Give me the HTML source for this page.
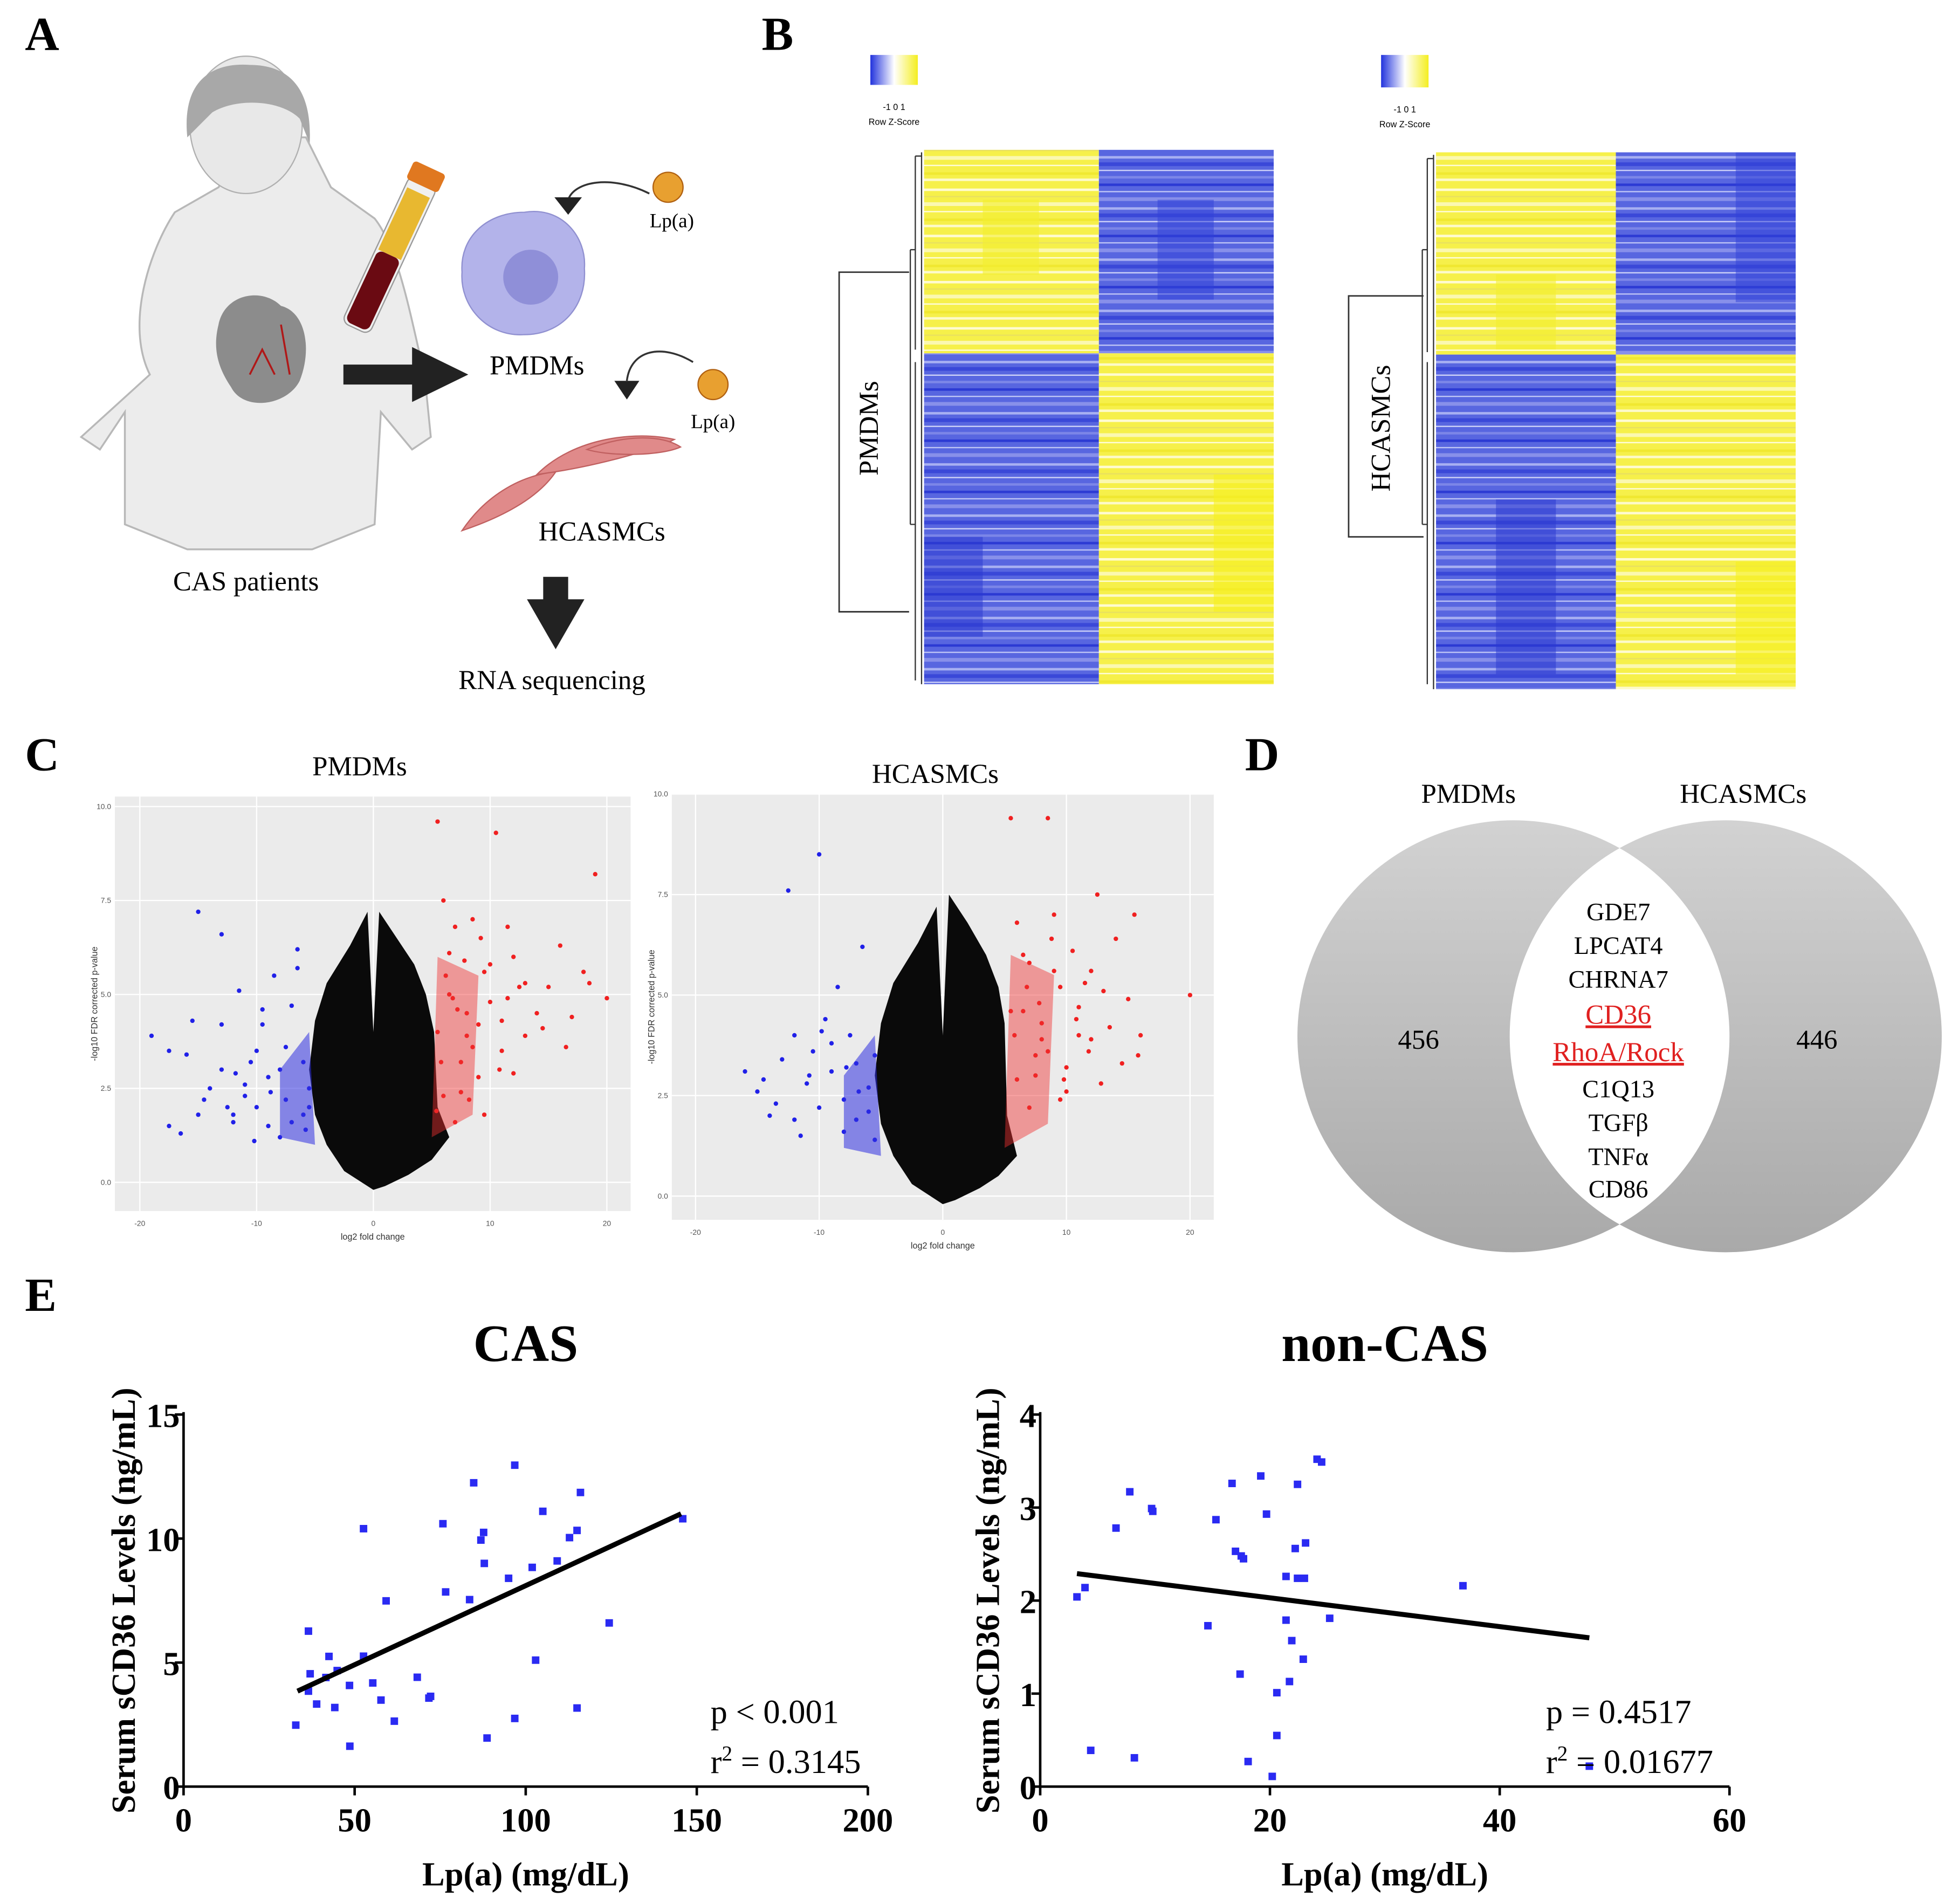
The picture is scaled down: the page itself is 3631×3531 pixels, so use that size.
<!DOCTYPE html>
<html><head><meta charset="utf-8"><style>
html,body{margin:0;padding:0;background:#fff}
svg{display:block}
text{font-family:"Liberation Serif",serif}
.sans{font-family:"Liberation Sans",sans-serif}
</style></head><body>
<svg id="fig" width="3631" height="3531" viewBox="0 0 1568 1525" preserveAspectRatio="none" xmlns="http://www.w3.org/2000/svg">
<defs>
<linearGradient id="vg" x1="0" y1="0" x2="0" y2="1"><stop offset="0" stop-color="#d2d2d2"/><stop offset="1" stop-color="#a9a9a9"/></linearGradient>
<pattern id="stripeY" width="40" height="37" patternUnits="userSpaceOnUse">
<rect width="40" height="37" fill="#f6f04a"/>
<rect y="3" width="40" height="2" fill="#fffbd0"/><rect y="9" width="40" height="1" fill="#e8e060"/>
<rect y="14" width="40" height="3" fill="#fbf8b0"/><rect y="21" width="40" height="1" fill="#fffde0"/>
<rect y="27" width="40" height="2" fill="#f0e830"/><rect y="32" width="40" height="2" fill="#fdfac8"/>
</pattern>
<pattern id="stripeB" width="40" height="41" patternUnits="userSpaceOnUse">
<rect width="40" height="41" fill="#5866e0"/>
<rect y="2" width="40" height="2" fill="#a8b0f2"/><rect y="7" width="40" height="3" fill="#3a48d8"/>
<rect y="13" width="40" height="1" fill="#d0d4f8"/><rect y="18" width="40" height="2" fill="#7c86e8"/>
<rect y="24" width="40" height="2" fill="#2c3ad4"/><rect y="30" width="40" height="1" fill="#c0c6f6"/>
<rect y="35" width="40" height="3" fill="#8890ea"/>
</pattern>
<linearGradient id="keyg" x1="0" x2="1"><stop offset="0" stop-color="#2233dd"/><stop offset="0.5" stop-color="#ffffff"/><stop offset="1" stop-color="#f4ee20"/></linearGradient>
</defs>

<!-- Panel letters -->
<text x="20" y="40" font-size="38" font-weight="bold">A</text>
<text x="610" y="40" font-size="38" font-weight="bold">B</text>
<text x="20" y="617" font-size="38" font-weight="bold">C</text>
<text x="997" y="617" font-size="38" font-weight="bold">D</text>
<text x="20" y="1050" font-size="38" font-weight="bold">E</text>

<!-- Panel A illustration -->
<g>
<path d="M120,300 C100,260 120,200 140,170 L175,150 L200,110 L245,110 L265,150 L300,175 C320,200 330,260 340,300 L345,350 L330,360 L305,330 L300,420 L250,440 L150,440 L100,420 L100,330 L80,360 L65,350 Z" fill="#ececec" stroke="#b8b8b8" stroke-width="1.5"/>
<ellipse cx="197" cy="100" rx="45" ry="55" fill="#e8e8e8" stroke="#b0b0b0"/>
<path d="M150,110 C145,60 175,50 200,52 C235,52 250,75 248,115 L240,95 C225,80 190,78 170,90 Z" fill="#a8a8a8"/>
<path d="M175,260 C180,235 210,230 225,245 C245,250 250,280 240,305 C230,325 195,330 185,310 C175,295 170,280 175,260Z" fill="#8c8c8c"/>
<path d="M200,300 L210,280 L220,300 M225,260 L232,300" stroke="#b01818" stroke-width="1.5" fill="none"/>
<g transform="rotate(25 315 200)"><rect x="302" y="140" width="24" height="130" rx="6" fill="#f0f0f0" stroke="#999"/><rect x="304" y="150" width="20" height="55" fill="#e8b830"/><rect x="304" y="205" width="20" height="63" rx="5" fill="#6a0a12"/><rect x="300" y="128" width="28" height="16" rx="3" fill="#e07820"/></g>
</g>
<path d="M520,155 C490,140 460,145 455,160" stroke="#333" stroke-width="1.5" fill="none"/>
<polygon points="444,158 466,158 455,172" fill="#222"/>
<circle cx="535" cy="150" r="12" fill="#e8a030" stroke="#b06010"/>
<text x="538" y="182" font-size="16" text-anchor="middle">Lp(a)</text>
<path d="M420,170 C450,165 470,190 468,215 C470,245 450,268 420,268 C390,270 368,245 370,218 C368,190 390,170 420,170Z" fill="#b3b3ea" stroke="#9090d0"/>
<circle cx="425" cy="222" r="22" fill="#8f8fd8"/>
<path d="M275,292 L330,292 L330,278 L375,300 L330,322 L330,308 L275,308Z" fill="#222"/>
<text x="430" y="300" font-size="22" text-anchor="middle">PMDMs</text>
<path d="M555,290 C530,275 505,280 502,305" stroke="#333" stroke-width="1.5" fill="none"/>
<polygon points="492,305 512,305 502,320" fill="#222"/>
<circle cx="571" cy="308" r="12" fill="#e8a030" stroke="#b06010"/>
<text x="571" y="343" font-size="16" text-anchor="middle">Lp(a)</text>
<g fill="#e08a8a" stroke="#c06060">
<path d="M430,380 C460,350 510,345 540,352 C520,362 470,375 430,380Z"/>
<path d="M470,360 C500,348 530,348 545,358 C530,365 490,366 470,360Z"/>
<path d="M370,425 C390,395 420,380 445,378 C430,400 400,415 370,425Z"/>
</g>
<text x="482" y="433" font-size="22" text-anchor="middle">HCASMCs</text>
<text x="197" y="473" font-size="22" text-anchor="middle">CAS patients</text>
<path d="M435,462 L455,462 L455,480 L468,480 L445,520 L422,480 L435,480Z" fill="#222"/>
<text x="442" y="552" font-size="22" text-anchor="middle">RNA sequencing</text>

<!-- Panel B heatmaps -->
<g>
<rect x="697" y="44" width="38" height="24" fill="url(#keyg)"/>
<text x="716" y="88" font-size="7" text-anchor="middle" class="sans">-1  0  1</text>
<text x="716" y="100" font-size="7" text-anchor="middle" class="sans">Row Z-Score</text>
<rect x="740" y="120" width="140" height="163" fill="url(#stripeY)"/>
<rect x="880" y="120" width="140" height="163" fill="url(#stripeB)"/>
<rect x="740" y="283" width="140" height="265" fill="url(#stripeB)"/>
<rect x="880" y="283" width="140" height="265" fill="url(#stripeY)"/>
<rect x="787" y="160" width="45" height="60" fill="#f4ee30" opacity="0.6"/>
<rect x="927" y="160" width="45" height="80" fill="#3040d8" opacity="0.5"/>
<rect x="740" y="430" width="47" height="80" fill="#2a38d0" opacity="0.5"/>
<rect x="972" y="380" width="48" height="110" fill="#f6f020" opacity="0.6"/>
<path d="M738,122 V548 M733,125 H738 M733,125 V280 M729,200 H733 M733,290 V545 M729,420 H733 M729,200 V420" stroke="#333" stroke-width="1" fill="none"/>
<path d="M728,218 H672 V490 H728" stroke="#333" stroke-width="1.2" fill="none"/>
<text transform="translate(703 343) rotate(-90)" font-size="22" text-anchor="middle">PMDMs</text>
</g>
<g>
<rect x="1106" y="44" width="38" height="26" fill="url(#keyg)"/>
<text x="1125" y="90" font-size="7" text-anchor="middle" class="sans">-1  0  1</text>
<text x="1125" y="102" font-size="7" text-anchor="middle" class="sans">Row Z-Score</text>
<rect x="1150" y="122" width="144" height="162" fill="url(#stripeY)"/>
<rect x="1294" y="122" width="144" height="162" fill="url(#stripeB)"/>
<rect x="1150" y="284" width="144" height="268" fill="url(#stripeB)"/>
<rect x="1294" y="284" width="144" height="268" fill="url(#stripeY)"/>
<rect x="1198" y="220" width="48" height="60" fill="#f4ee30" opacity="0.6"/>
<rect x="1390" y="122" width="48" height="120" fill="#3040d8" opacity="0.5"/>
<rect x="1198" y="400" width="48" height="140" fill="#2a38d0" opacity="0.5"/>
<rect x="1390" y="450" width="48" height="90" fill="#f6f020" opacity="0.6"/>
<path d="M1148,124 V552 M1143,127 H1148 M1143,127 V282 M1139,200 H1143 M1143,290 V548 M1139,420 H1143 M1139,200 V420" stroke="#333" stroke-width="1" fill="none"/>
<path d="M1140,237 H1080 V430 H1140" stroke="#333" stroke-width="1.2" fill="none"/>
<text transform="translate(1113 343) rotate(-90)" font-size="22" text-anchor="middle">HCASMCs</text>
</g>

<!-- Panel C volcano -->
<text x="288" y="621" font-size="22" text-anchor="middle">PMDMs</text>
<text x="749" y="627" font-size="22" text-anchor="middle">HCASMCs</text>
<g id="volL"></g>
<g id="volR"></g>

<!-- Panel D venn -->
<g>
<circle cx="1212" cy="830" r="173" fill="url(#vg)"/>
<circle cx="1382" cy="830" r="173" fill="url(#vg)"/>
<clipPath id="clipL"><circle cx="1212" cy="830" r="173"/></clipPath>
<circle cx="1382" cy="830" r="173" fill="#fff" clip-path="url(#clipL)"/>
<text x="1176" y="643" font-size="22" text-anchor="middle">PMDMs</text>
<text x="1396" y="643" font-size="22" text-anchor="middle">HCASMCs</text>
<text x="1136" y="840" font-size="22" text-anchor="middle">456</text>
<text x="1455" y="840" font-size="22" text-anchor="middle">446</text>
<g font-size="20" text-anchor="middle">
<text x="1296" y="737">GDE7</text>
<text x="1296" y="764">LPCAT4</text>
<text x="1296" y="791">CHRNA7</text>
<text x="1296" y="820" fill="#e02020" font-size="22" text-decoration="underline">CD36</text>
<text x="1296" y="850" fill="#e02020" font-size="22" text-decoration="underline">RhoA/Rock</text>
<text x="1296" y="879">C1Q13</text>
<text x="1296" y="906">TGFβ</text>
<text x="1296" y="933">TNFα</text>
<text x="1296" y="959">CD86</text>
</g>
</g>

<!-- Panel E -->
<g id="scatCAS"></g>
<g id="scatNon"></g>
</svg>
<script>
// ---------- Scatter data ----------
const casX=[96.8,84.8,116,105,75.8,52.6,145.9,87.7,86.9,115,112.8,87.9,109.2,101.9,95,59.2,76.6,83.6,124.4,36.5,42.5,52.6,102.9,37,44.9,41.6,68.3,48.5,55.3,36.5,57.7,72.2,71.7,38.9,44.2,115,61.6,96.8,32.8,88.7,48.6];
const casY=[12.96,12.25,11.86,11.1,10.6,10.4,10.8,10.25,9.94,10.33,10.04,9.0,9.1,8.84,8.4,7.49,7.85,7.54,6.6,6.27,5.25,5.26,5.1,4.55,4.68,4.4,4.41,4.08,4.18,3.85,3.49,3.64,3.57,3.33,3.19,3.17,2.64,2.75,2.48,1.96,1.63];
const casFitX=[33.3,145.4];
const casFitY=[3.85,11.0];
const casXTicks=[0,50,100,150,200];
const casYTicks=[0,5,10,15];
const nonX=[24.1,24.5,19.2,16.7,22.4,7.8,9.7,9.8,15.3,19.7,6.6,23.1,22.2,17.0,17.5,17.7,21.4,22.4,23.0,36.8,3.9,3.2,14.6,21.4,25.2,21.9,22.9,17.4,21.7,20.6,20.6,4.4,8.2,18.1,20.2,47.8];
const nonY=[3.52,3.49,3.34,3.26,3.25,3.17,2.99,2.96,2.87,2.93,2.78,2.62,2.56,2.53,2.48,2.45,2.26,2.24,2.24,2.16,2.14,2.04,1.73,1.79,1.81,1.57,1.37,1.21,1.13,1.01,0.55,0.39,0.31,0.27,0.11,0.22];
const nonFitX=[3.2,47.8];
const nonFitY=[2.29,1.60];
const nonXTicks=[0,20,40,60];
const nonYTicks=[0,1,2,3,4];

// ---------- Volcano data (log2FC, -log10 FDR) ----------
const volLBlueX=[-19,-17.5,-17.5,-16,-15.5,-15,-14,-13,-13,-12.5,-12,-11.5,-11,-10.5,-10,-9.5,-9,-8.5,-8,-7.5,-7,-6.5,-6,-5.5,-13,-15,-11,-9,-8,-7,-6,-5.5,-10,-12,-16.5,-14.5,-6.5,-9.5,-7.5,-5.8,-8.8,-10.2,-11.8];
const volLBlueY=[3.9,3.5,1.5,3.4,4.3,7.2,2.5,4.2,6.6,2.0,1.8,5.1,2.3,3.2,3.5,4.2,1.5,5.5,3.0,2.2,4.7,6.2,1.8,2.5,3.0,1.8,2.6,2.8,1.2,1.6,3.2,2.0,2.0,1.6,1.3,2.2,5.7,4.6,3.6,1.4,2.4,1.1,2.9];
const volLRedX=[5.5,6,6.5,7,7.5,8,8.5,9,9.5,10,10.5,11,11.5,12,13,14,15,16,17,18,19,20,6,7,8,9,10,5.5,6.5,7.5,8.5,9.5,11,12,13,5.8,6.2,7.2,8.2,9.2,10.8,12.5,14.5,16.5,18.5,5.4,6.8,7.8,11.5];
const volLRedY=[9.6,7.5,5.0,6.8,3.2,4.5,7.0,2.8,5.6,4.8,9.3,3.5,4.9,6.0,5.3,4.5,5.2,6.3,4.4,5.6,8.2,4.9,2.3,1.6,3.9,4.2,5.8,4.0,6.1,2.4,3.6,1.8,4.3,2.9,3.9,3.2,5.5,4.6,2.2,6.5,3.0,5.2,4.1,3.6,5.3,1.9,4.9,5.9,6.8];
const volRBlueX=[-16,-15,-14,-13,-12.5,-12,-11,-10.5,-10,-9.5,-9,-8.5,-8,-7.5,-7,-6.5,-6,-5.5,-13.5,-11.5,-10,-8,-7,-6,-5.5,-9,-12,-14.5,-6.8,-7.8,-9.8,-10.8];
const volRBlueY=[3.1,2.6,2.0,3.4,7.6,4.0,2.8,3.6,8.5,4.4,3.1,5.2,2.4,4.0,3.3,6.2,2.1,3.5,2.3,1.5,2.2,1.6,1.9,2.7,1.4,3.8,1.9,2.9,2.6,3.2,4.1,3.0];
const volRRedX=[5.5,6,6.5,7,7.5,8,8.5,9,9.5,10,10.5,11,11.5,12,12.5,13,14,15,16,20,6,7,8,9,10,11,12,5.5,6.5,7.5,8.5,9.5,13.5,14.5,15.5,5.8,6.8,7.8,8.8,9.8,10.8,11.8,12.8,15.8];
const volRRedY=[9.4,6.8,4.6,5.8,3.5,4.3,9.4,7.0,5.2,3.2,6.1,4.7,5.3,3.9,7.5,5.1,6.4,4.9,4.0,5.0,2.9,2.2,3.9,5.6,2.6,4.0,5.6,4.6,6.0,3.0,3.6,2.4,4.2,3.3,7.0,4.0,5.2,4.8,6.4,2.9,4.4,3.6,2.8,3.5];
const volLMassX=[0,-2.5,-4,-5,-5.5,-5,-4,-2,-0.5,0,0.5,2,3.5,4.5,5.2,5.5,6.5,5,3,1];
const volLMassY=[-0.2,0.3,1.0,1.8,3.0,4.3,5.3,6.3,7.2,4,7.2,6.5,5.8,5.0,4.0,2.0,1.2,0.6,0.2,-0.1];
const volRMassX=[0,-2.5,-4,-5,-5.5,-5,-4,-2,-0.5,0,0.5,2,3.5,4.5,5,5.2,6,4.5,3,1];
const volRMassY=[-0.2,0.3,1.0,1.8,3.0,4.3,5.3,6.3,7.2,4,7.5,6.8,6.0,5.2,4.3,2.0,1.0,0.5,0.2,-0.1];
const volXTicks=[-20,-10,0,10,20];
const volYTicks=[0,2.5,5,7.5,10];

const NS="http://www.w3.org/2000/svg";
function mk(tag,attrs,parent){const e=document.createElementNS(NS,tag);for(const k in attrs)e.setAttribute(k,attrs[k]);parent.appendChild(e);return e;}

function scatter(g,cfg){
  const sx=v=>cfg.x0+(v-cfg.xmin)/(cfg.xmax-cfg.xmin)*(cfg.x1-cfg.x0);
  const sy=v=>cfg.y0-(v-cfg.ymin)/(cfg.ymax-cfg.ymin)*(cfg.y0-cfg.y1);
  const t=mk('text',{x:(cfg.x0+cfg.x1)/2+cfg.titleDx,y:1090,'font-size':42,'font-weight':'bold','text-anchor':'middle'},g);
  t.textContent=cfg.title;
  
  
  const ax=mk('path',{d:`M${cfg.x0},${cfg.y1-2} V${cfg.y0} H${cfg.x1}`,stroke:'#000','stroke-width':2,fill:'none'},g);
  
  
  cfg.xt.forEach(v=>{
    mk('line',{x1:sx(v),x2:sx(v),y1:cfg.y0,y2:cfg.y0+7,stroke:'#000','stroke-width':2},g);
    const l=mk('text',{x:sx(v),y:cfg.y0+36,'font-size':27,'font-weight':'bold','text-anchor':'middle'},g);
    l.textContent=v;
    
    
  });
  cfg.yt.forEach(v=>{
    mk('line',{x1:cfg.x0-7,x2:cfg.x0,y1:sy(v),y2:sy(v),stroke:'#000','stroke-width':2},g);
    const l=mk('text',{x:cfg.x0-3,y:sy(v)+10,'font-size':27,'font-weight':'bold','text-anchor':'end'},g);
    l.textContent=v;
    
    
  });
  const xl=mk('text',{x:(cfg.x0+cfg.x1)/2,y:1510,'font-size':27,'font-weight':'bold','text-anchor':'middle'},g);
  xl.textContent='Lp(a) (mg/dL)';
  
  
  const yl=mk('text',{transform:`translate(${cfg.ytx} 1282) rotate(-90)`,'font-size':27,'font-weight':'bold','text-anchor':'middle'},g);
  yl.textContent='Serum sCD36 Levels (ng/mL)';
  
  
  cfg.xs.forEach((v,i)=>{
    const p=mk('rect',{x:sx(v)-3,y:sy(cfg.ys[i])-3,width:6,height:6,fill:'#2a2af2'},g);
    
    
  });
  const f=mk('line',{x1:sx(cfg.fx[0]),y1:sy(cfg.fy[0]),x2:sx(cfg.fx[1]),y2:sy(cfg.fy[1]),stroke:'#000','stroke-width':4},g);
  
  
  const s1=mk('text',{x:cfg.statX,y:1380,'font-size':27},g);
  s1.textContent=cfg.p;
  
  
  const s2=mk('text',{x:cfg.statX,y:1420,'font-size':27},g);
  s2.innerHTML='r<tspan dy="-10" font-size="17">2</tspan><tspan dy="10"> = '+cfg.r2+'</tspan>';
  
  
}
scatter(document.getElementById('scatCAS'),{x0:147,x1:695,y0:1431,y1:1133,xmin:0,xmax:200,ymin:0,ymax:15,xt:casXTicks,yt:casYTicks,xs:casX,ys:casY,fx:casFitX,fy:casFitY,title:'CAS',titleDx:-0,ytx:108,statX:569,p:'p < 0.001',r2:'0.3145'});
scatter(document.getElementById('scatNon'),{x0:833,x1:1385,y0:1431,y1:1133,xmin:0,xmax:60,ymin:0,ymax:4,xt:nonXTicks,yt:nonYTicks,xs:nonX,ys:nonY,fx:nonFitX,fy:nonFitY,title:'non-CAS',titleDx:0,ytx:800,statX:1238,p:'p = 0.4517',r2:'0.01677'});

function volcano(g,c){
  const sx=v=>c.xa+(v+20)/40*(c.xb-c.xa);
  const sy=v=>c.ya-v/10*(c.ya-c.yb);
  const bg=mk('rect',{x:c.L,y:c.T,width:c.R-c.L,height:c.B-c.T,fill:'#ebebeb'},g);
  
  
  volYTicks.forEach(v=>{
    mk('line',{x1:c.L,x2:c.R,y1:sy(v),y2:sy(v),stroke:'#fff','stroke-width':1},g);
    const l=mk('text',{x:c.L-3,y:sy(v)+2,'font-size':6,'text-anchor':'end',class:'sans',fill:'#555'},g);
    l.textContent=v.toFixed(1);
    
    
  });
  volXTicks.forEach(v=>{
    mk('line',{x1:sx(v),x2:sx(v),y1:c.T,y2:c.B,stroke:'#fff','stroke-width':1},g);
    const l=mk('text',{x:sx(v),y:c.B+12,'font-size':6,'text-anchor':'middle',class:'sans',fill:'#555'},g);
    l.textContent=v;
    
    
  });
  const xt=mk('text',{x:(c.L+c.R)/2,y:c.B+23,'font-size':7,'text-anchor':'middle',class:'sans',fill:'#333'},g);
  xt.textContent='log2 fold change';
  
  
  const yt=mk('text',{transform:`translate(${c.L-14} ${(c.T+c.B)/2}) rotate(-90)`,'font-size':7,'text-anchor':'middle',class:'sans',fill:'#333'},g);
  yt.textContent='-log10 FDR corrected p-value';
  
  
  let d='';c.mx.forEach((v,i)=>{d+=(i?'L':'M')+sx(v)+','+sy(c.my[i]);});
  const m=mk('path',{d:d+'Z',fill:'#0a0a0a'},g);
  
  
  c.bx.forEach((v,i)=>{
    const p=mk('circle',{cx:sx(v),cy:sy(c.by[i]),r:1.8,fill:'#2020e8'},g);
    
    
  });
  c.rx.forEach((v,i)=>{
    const p=mk('circle',{cx:sx(v),cy:sy(c.ry[i]),r:1.8,fill:'#f02020'},g);
    
    
  });
  // dense clouds near thresholds
  const cl=mk('path',{d:`M${sx(-5)},${sy(1)} L${sx(-8)},${sy(1.2)} L${sx(-8)},${sy(3)} L${sx(-5.5)},${sy(4)} Z`,fill:'#3030e0',opacity:0.55},g);
  
  
  const cr=mk('path',{d:`M${sx(5)},${sy(1.2)} L${sx(8.5)},${sy(1.8)} L${sx(9)},${sy(5.5)} L${sx(5.5)},${sy(6)} Z`,fill:'#f03030',opacity:0.45},g);
  
  
}
volcano(document.getElementById('volL'),{L:92,R:505,T:638,B:970,xa:112,xb:486,ya:947,yb:646,mx:volLMassX,my:volLMassY,bx:volLBlueX,by:volLBlueY,rx:volLRedX,ry:volLRedY});
volcano(document.getElementById('volR'),{L:538,R:972,T:636,B:977,xa:557,xb:953,ya:958,yb:636,mx:volRMassX,my:volRMassY,bx:volRBlueX,by:volRBlueY,rx:volRRedX,ry:volRRedY});
</script>
</body></html>
